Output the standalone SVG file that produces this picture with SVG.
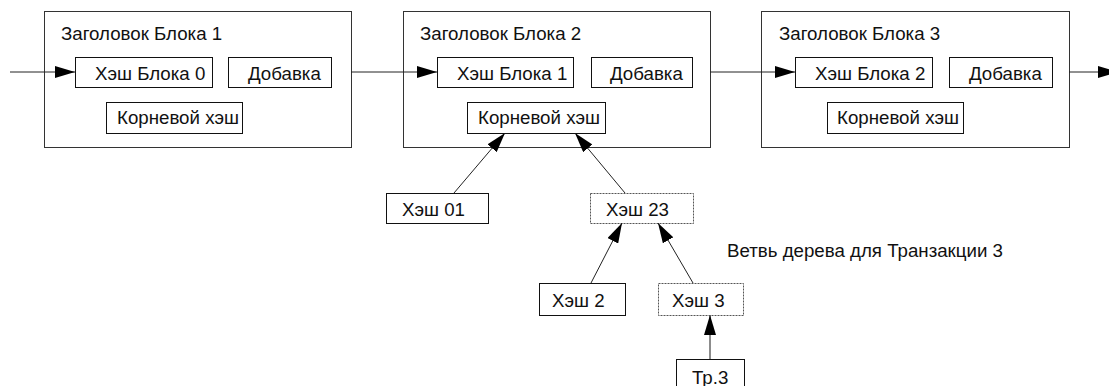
<svg xmlns="http://www.w3.org/2000/svg" width="1109" height="386" viewBox="0 0 1109 386">
<defs>
<style>
text{font-family:"Liberation Sans",Arial,sans-serif;font-size:18.7px;fill:#111}
.blk{fill:#fff;stroke:#333;stroke-width:1}
.box{fill:#fff;stroke:#111;stroke-width:1}
.dash{fill:#fff;stroke:#555;stroke-width:1;stroke-dasharray:2 1}
.con{stroke:#222;stroke-width:1;fill:none;marker-end:url(#ah)}
.con2{stroke:#666;stroke-width:1.5;fill:none;marker-end:url(#ah)}
</style>
<marker id="ah" viewBox="0 0 20 12" refX="20" refY="6" markerWidth="20" markerHeight="12" markerUnits="userSpaceOnUse" orient="auto">
<path d="M0,0 L20,6 L0,12 Z" fill="#000"/>
</marker>
</defs>
<rect width="1109" height="386" fill="#fff"/>
<g id="block1">
<rect class="blk" x="44.5" y="11.5" width="307" height="136"/>
<text x="61" y="40">Заголовок Блока 1</text>
<rect class="box" x="75.5" y="57.5" width="137" height="30"/>
<text x="95" y="80">Хэш Блока 0</text>
<rect class="box" x="228.5" y="57.5" width="103" height="30"/>
<text x="248" y="80">Добавка</text>
<rect class="box" x="106.5" y="102.5" width="136" height="31"/>
<text x="117" y="124">Корневой хэш</text>
</g>
<g id="block2">
<rect class="blk" x="403.5" y="11.5" width="307" height="136"/>
<text x="420" y="40">Заголовок Блока 2</text>
<rect class="box" x="437.5" y="57.5" width="136" height="30"/>
<text x="457" y="80">Хэш Блока 1</text>
<rect class="box" x="591.5" y="57.5" width="101" height="30"/>
<text x="610" y="80">Добавка</text>
<rect class="box" x="467.5" y="102.5" width="138" height="31"/>
<text x="478" y="124">Корневой хэш</text>
</g>
<g id="block3">
<rect class="blk" x="761.5" y="11.5" width="308" height="136"/>
<text x="779" y="40">Заголовок Блока 3</text>
<rect class="box" x="795.5" y="57.5" width="137" height="30"/>
<text x="815" y="80">Хэш Блока 2</text>
<rect class="box" x="949.5" y="57.5" width="103" height="30"/>
<text x="969" y="80">Добавка</text>
<rect class="box" x="827.5" y="102.5" width="136" height="31"/>
<text x="837" y="124">Корневой хэш</text>
</g>
<g id="hash01">
<rect class="box" x="386.5" y="193.5" width="102" height="30"/>
<text x="402" y="216">Хэш 01</text>
</g>
<g id="hash23">
<rect class="dash" x="590.5" y="193.5" width="103" height="30"/>
<text x="606" y="216">Хэш 23</text>
</g>
<g id="hash2">
<rect class="box" x="539.5" y="283.5" width="86" height="32"/>
<text x="552" y="307">Хэш 2</text>
</g>
<g id="hash3">
<rect class="dash" x="658.5" y="283.5" width="85" height="32"/>
<text x="672" y="307">Хэш 3</text>
</g>
<g id="tx3">
<rect class="box" x="676.5" y="359.5" width="68" height="40"/>
<text x="692" y="384">Тр.3</text>
</g>
<g id="label">
<text x="727" y="257">Ветвь дерева для Транзакции 3</text>
</g>
<g id="connectors">
<line class="con" x1="10" y1="72" x2="75" y2="72"/>
<line class="con" x1="351" y1="72" x2="437" y2="72"/>
<line class="con" x1="710" y1="72" x2="795" y2="72"/>
<line class="con" x1="1069" y1="72" x2="1118" y2="72"/>
<line class="con" x1="454" y1="193" x2="505" y2="133"/>
<line class="con" x1="625" y1="193" x2="575" y2="133"/>
<line class="con" x1="591" y1="283" x2="622" y2="223"/>
<line class="con" x1="693" y1="283" x2="658" y2="223"/>
<line class="con2" x1="710" y1="359" x2="710" y2="315"/>
</g>
</svg>
